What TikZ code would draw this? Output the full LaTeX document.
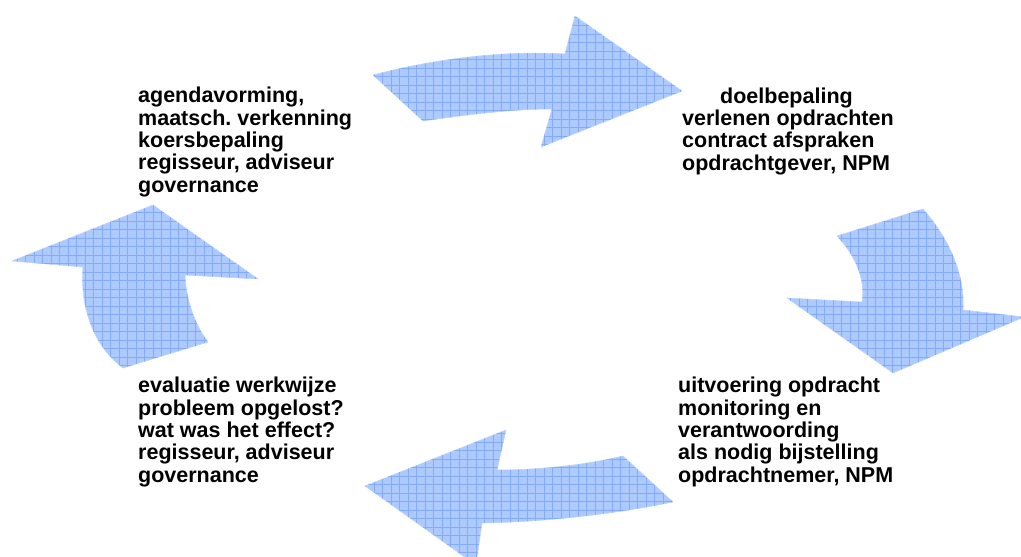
\documentclass[tikz,border=0pt]{standalone}
\usepackage{fontspec}
\setmainfont{Liberation Sans}
\frenchspacing
\definecolor{arrowfill}{RGB}{172,202,253}
\definecolor{arrowgrid}{RGB}{132,170,248}
\tikzset{
  arrowshape/.style={fill=arrowfill, draw=arrowfill!80!white, line width=0.6pt, line join=round},
  gridlines/.style={draw=arrowgrid, line width=0.5pt},
  label/.style={anchor=base west, align=left, inner sep=0pt, font=\bfseries\fontsize{21.5}{22.3}\selectfont, text=black}
}
\newcommand{\toparrow}{(373,75) .. controls (430,60) and (500,50) .. (565,54) -- (575,16) -- (682,91) -- (541,147) -- (552,109) .. controls (510,109) and (465,115) .. (423,121) -- cycle}
\newcommand{\rightarrowshape}{(837,236) -- (923,209) .. controls (950,240) and (965,275) .. (963,310) -- (1024,317) -- (893,373) -- (787,298) -- (862,302) .. controls (866,280) and (855,255) .. (837,236) -- cycle}
\newcommand{\bottomarrow}{(365,486) -- (506,430) -- (497,470) .. controls (540,470) and (585,465) .. (623,456) -- (673,502) .. controls (610,515) and (540,522) .. (482,523) -- (476,565) -- cycle}
\newcommand{\leftarrowshape}{(153,205) -- (258,279) -- (185,275) .. controls (186,300) and (195,325) .. (208,342) -- (123,368) .. controls (92,345) and (80,305) .. (83,267) -- (12,261) -- cycle}
\begin{document}
\begin{tikzpicture}[x=1pt,y=-1pt]
\useasboundingbox (0,0) rectangle (1021,557);
\begin{scope}
\clip (0,0) rectangle (1021,557);
\foreach \shp/\xa/\ya/\xb/\yb in {\toparrow/360/0/700/160, \rightarrowshape/780/200/1030/380, \bottomarrow/360/420/680/570, \leftarrowshape/0/200/270/380}{
  \path[arrowshape] \shp;
  \begin{scope}
    \clip \shp;
    \draw[gridlines, xstep=8.5pt, ystep=8.5pt] (\xa,\ya) grid (\xb,\yb);
  \end{scope}
}
\end{scope}
\node[label] (agenda) at (138,192) {agendavorming,\\maatsch. verkenning\\koersbepaling\\regisseur, adviseur\\governance};
\node[label] (doel) at (682,170) {\hspace*{38pt}doelbepaling\\verlenen opdrachten\\contract afspraken\\opdrachtgever, NPM};
\node[label] (eval) at (138,482) {evaluatie werkwijze\\probleem opgelost?\\wat was het effect?\\regisseur, adviseur\\governance};
\node[label] (uitv) at (678,482) {uitvoering opdracht\\monitoring en\\verantwoording\\als nodig bijstelling\\opdrachtnemer, NPM};
\end{tikzpicture}
\end{document}
